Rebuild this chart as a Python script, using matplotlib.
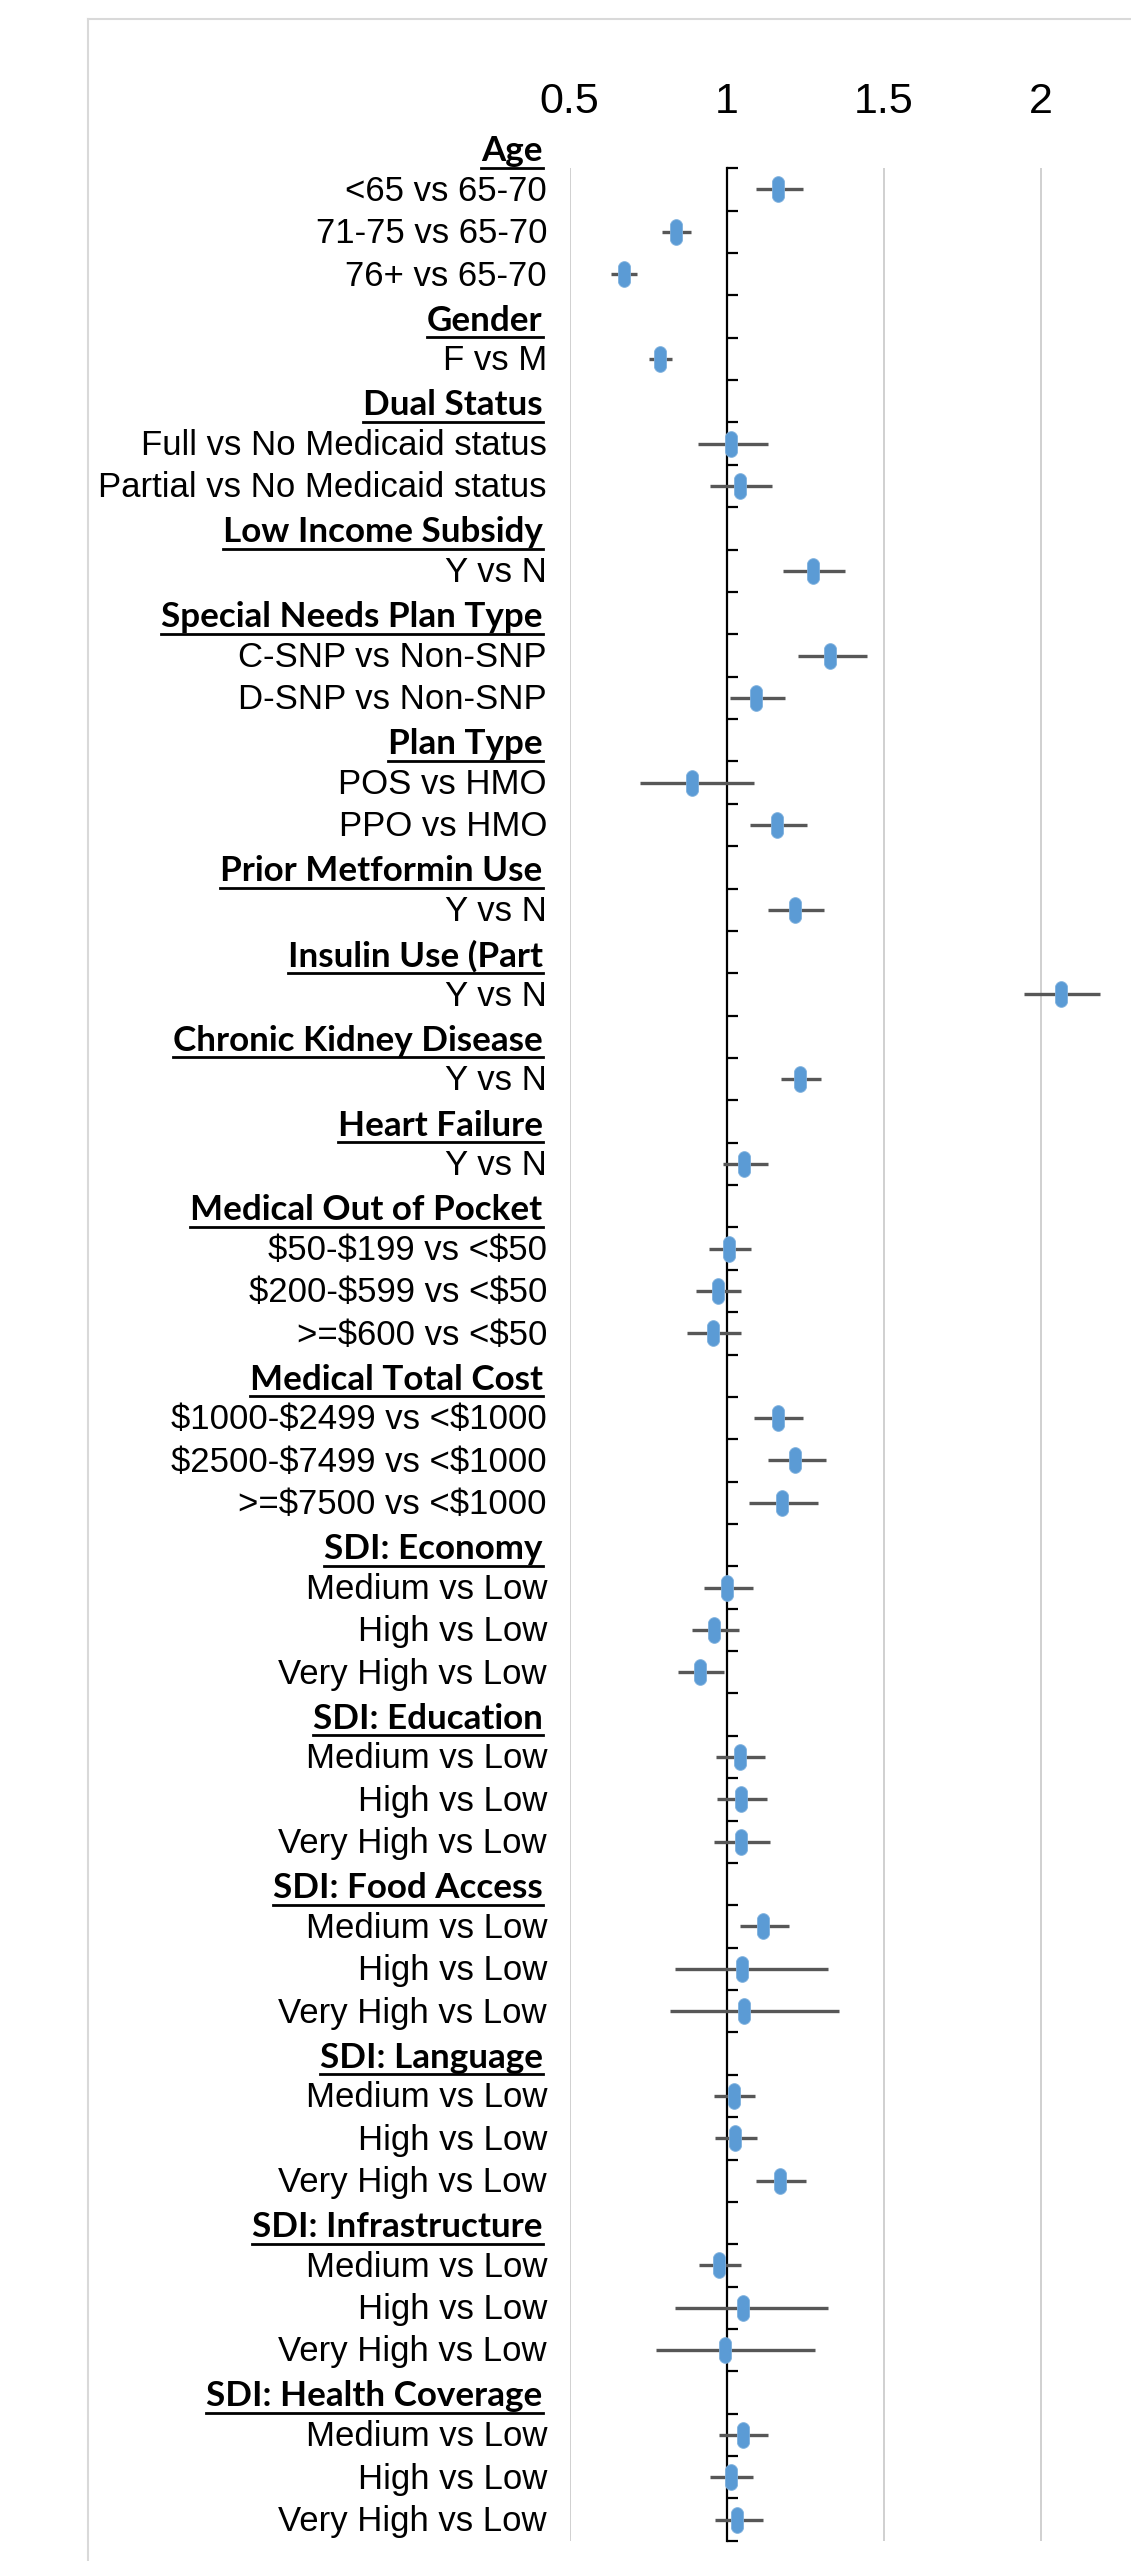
import numpy as np
import matplotlib
matplotlib.use("Agg")
import matplotlib.pyplot as plt
from matplotlib.path import Path
from matplotlib.lines import Line2D
from matplotlib import transforms

# row labels top to bottom (group headers are bold + underlined)
labels = [
    "Age", "<65 vs 65-70", "71-75 vs 65-70", "76+ vs 65-70",
    "Gender", "F vs M",
    "Dual Status", "Full vs No Medicaid status", "Partial vs No Medicaid status",
    "Low Income Subsidy", "Y vs N",
    "Special Needs Plan Type", "C-SNP vs Non-SNP", "D-SNP vs Non-SNP",
    "Plan Type", "POS vs HMO", "PPO vs HMO",
    "Prior Metformin Use", "Y vs N",
    "Insulin Use (Part", "Y vs N",
    "Chronic Kidney Disease", "Y vs N",
    "Heart Failure", "Y vs N",
    "Medical Out of Pocket", "$50-$199 vs <$50", "$200-$599 vs <$50", ">=$600 vs <$50",
    "Medical Total Cost", "$1000-$2499 vs <$1000", "$2500-$7499 vs <$1000", ">=$7500 vs <$1000",
    "SDI: Economy", "Medium vs Low", "High vs Low", "Very High vs Low",
    "SDI: Education", "Medium vs Low", "High vs Low", "Very High vs Low",
    "SDI: Food Access", "Medium vs Low", "High vs Low", "Very High vs Low",
    "SDI: Language", "Medium vs Low", "High vs Low", "Very High vs Low",
    "SDI: Infrastructure", "Medium vs Low", "High vs Low", "Very High vs Low",
    "SDI: Health Coverage", "Medium vs Low", "High vs Low", "Very High vs Low",
]
headers = [
    "Age", "Gender", "Dual Status", "Low Income Subsidy", "Special Needs Plan Type",
    "Plan Type", "Prior Metformin Use", "Insulin Use (Part", "Chronic Kidney Disease",
    "Heart Failure", "Medical Out of Pocket", "Medical Total Cost", "SDI: Economy",
    "SDI: Education", "SDI: Food Access", "SDI: Language", "SDI: Infrastructure",
    "SDI: Health Coverage",
]

# estimates and 95% CI for the non-header rows, in order
odds_ratio = [1.163, 0.840, 0.672, 0.788, 1.013, 1.041, 1.275, 1.330, 1.093,
              0.888, 1.160, 1.216, 2.063, 1.233, 1.054, 1.008, 0.973, 0.955,
              1.163, 1.216, 1.175, 1.002, 0.961, 0.915, 1.041, 1.046, 1.044,
              1.114, 1.049, 1.054, 1.022, 1.026, 1.171, 0.976, 1.052, 0.996,
              1.052, 1.013, 1.034]
ci_low = [1.092, 0.794, 0.632, 0.754, 0.910, 0.948, 1.179, 1.228, 1.009,
          0.725, 1.074, 1.133, 1.947, 1.173, 0.989, 0.945, 0.901, 0.873,
          1.088, 1.130, 1.072, 0.928, 0.890, 0.846, 0.966, 0.969, 0.960,
          1.043, 0.834, 0.819, 0.960, 0.963, 1.092, 0.912, 0.837, 0.775,
          0.977, 0.948, 0.962]
ci_high = [1.243, 0.887, 0.716, 0.827, 1.132, 1.143, 1.377, 1.448, 1.184,
           1.087, 1.254, 1.310, 2.189, 1.300, 1.131, 1.078, 1.046, 1.046,
           1.243, 1.316, 1.292, 1.085, 1.038, 0.991, 1.123, 1.129, 1.137,
           1.197, 1.323, 1.359, 1.089, 1.097, 1.252, 1.046, 1.321, 1.282,
           1.133, 1.085, 1.115]

x_ticks = [0.5, 1, 1.5, 2]
x_tick_labels = ["0.5", "1", "1.5", "2"]

plt.rcParams['font.family'] = ['Liberation Sans', 'DejaVu Sans']
plt.rcParams['text.parse_math'] = False

W, H = 1131, 2561
fig = plt.figure(figsize=(W / 100, H / 100), dpi=100)
ax_top, ax_bot, ax_left, ax_w = 168.3, 2540.8, 569.6, 628.4
ax = fig.add_axes([ax_left / W, 1 - ax_bot / H, ax_w / W, (ax_bot - ax_top) / H])

n = len(labels)
item_pos = [i for i, lab in enumerate(labels) if lab not in headers]

# vertical pill-shaped marker
r = 0.47
a1 = np.linspace(0, np.pi, 24)
a2 = np.linspace(np.pi, 2 * np.pi, 24)
top = np.column_stack([r * np.cos(a1), (1 - r) + r * np.sin(a1)])
bot = np.column_stack([r * np.cos(a2), -(1 - r) + r * np.sin(a2)])
verts = np.vstack([top, bot, top[:1]])
codes = [Path.MOVETO] + [Path.LINETO] * (len(verts) - 2) + [Path.CLOSEPOLY]
pill = Path(verts, codes)

ax.hlines(item_pos, ci_low, ci_high, color='#575757', lw=2.4, zorder=3)
ax.plot(odds_ratio, item_pos, ls='none', marker=pill, ms=18.5,
        mfc='#5B9BD5', mec='#7fb1de', mew=0.6, zorder=4)

ax.set_xlim(0.5, 2.5)
ax.set_ylim(n - 0.5, 0.5)

for s in ['top', 'right', 'bottom']:
    ax.spines[s].set_visible(False)
ax.spines['left'].set_position(('data', 1))
ax.spines['left'].set_linewidth(1.6)
ax.spines['left'].set_color('black')

ax.set_yticks(np.arange(0.5, n, 1))
ax.tick_params(axis='y', direction='in', length=8, width=1.6, labelleft=False)

ax.xaxis.set_ticks_position('top')
ax.set_xticks(x_ticks, x_tick_labels)
ax.tick_params(axis='x', length=0, pad=33, labelsize=31)
ax.grid(axis='x', color='#c8c8c8', lw=1.2)
ax.set_axisbelow(True)

# row labels, right aligned left of the plot area
trans = transforms.blended_transform_factory(ax.transAxes, ax.transData)
header_texts = []
for i, lab in enumerate(labels):
    if lab in headers:
        t = ax.text(-27 / ax_w, i + 0.33, lab, ha='right', va='baseline',
                    transform=trans, fontsize=25.2, fontfamily=['Lato', 'DejaVu Sans'],
                    fontweight='bold', clip_on=False)
        header_texts.append(t)
    else:
        ax.text(-22.6 / ax_w, i + 0.267, lab, ha='right', va='baseline',
                transform=trans, fontsize=25, clip_on=False)

# underline the headers
fig.canvas.draw()
renderer = fig.canvas.get_renderer()
inv = fig.transFigure.inverted()
for t in header_texts:
    bb = t.get_window_extent(renderer)
    base = t.get_transform().transform(t.get_position())[1]
    (x0, y0), (x1, _) = inv.transform([(bb.x0, base - 6.5), (bb.x1, base - 6.5)])
    fig.add_artist(Line2D([x0, x1], [y0, y0], color='black', lw=2.0))

# light chart border (cut off at right and bottom)
fx, fy = 88 / W, 1 - 19 / H
fig.add_artist(Line2D([fx, fx], [0, fy], color='#d9d9d9', lw=1.5))
fig.add_artist(Line2D([fx, 1], [fy, fy], color='#d9d9d9', lw=1.5))

fig.savefig("out.png", dpi=100)
